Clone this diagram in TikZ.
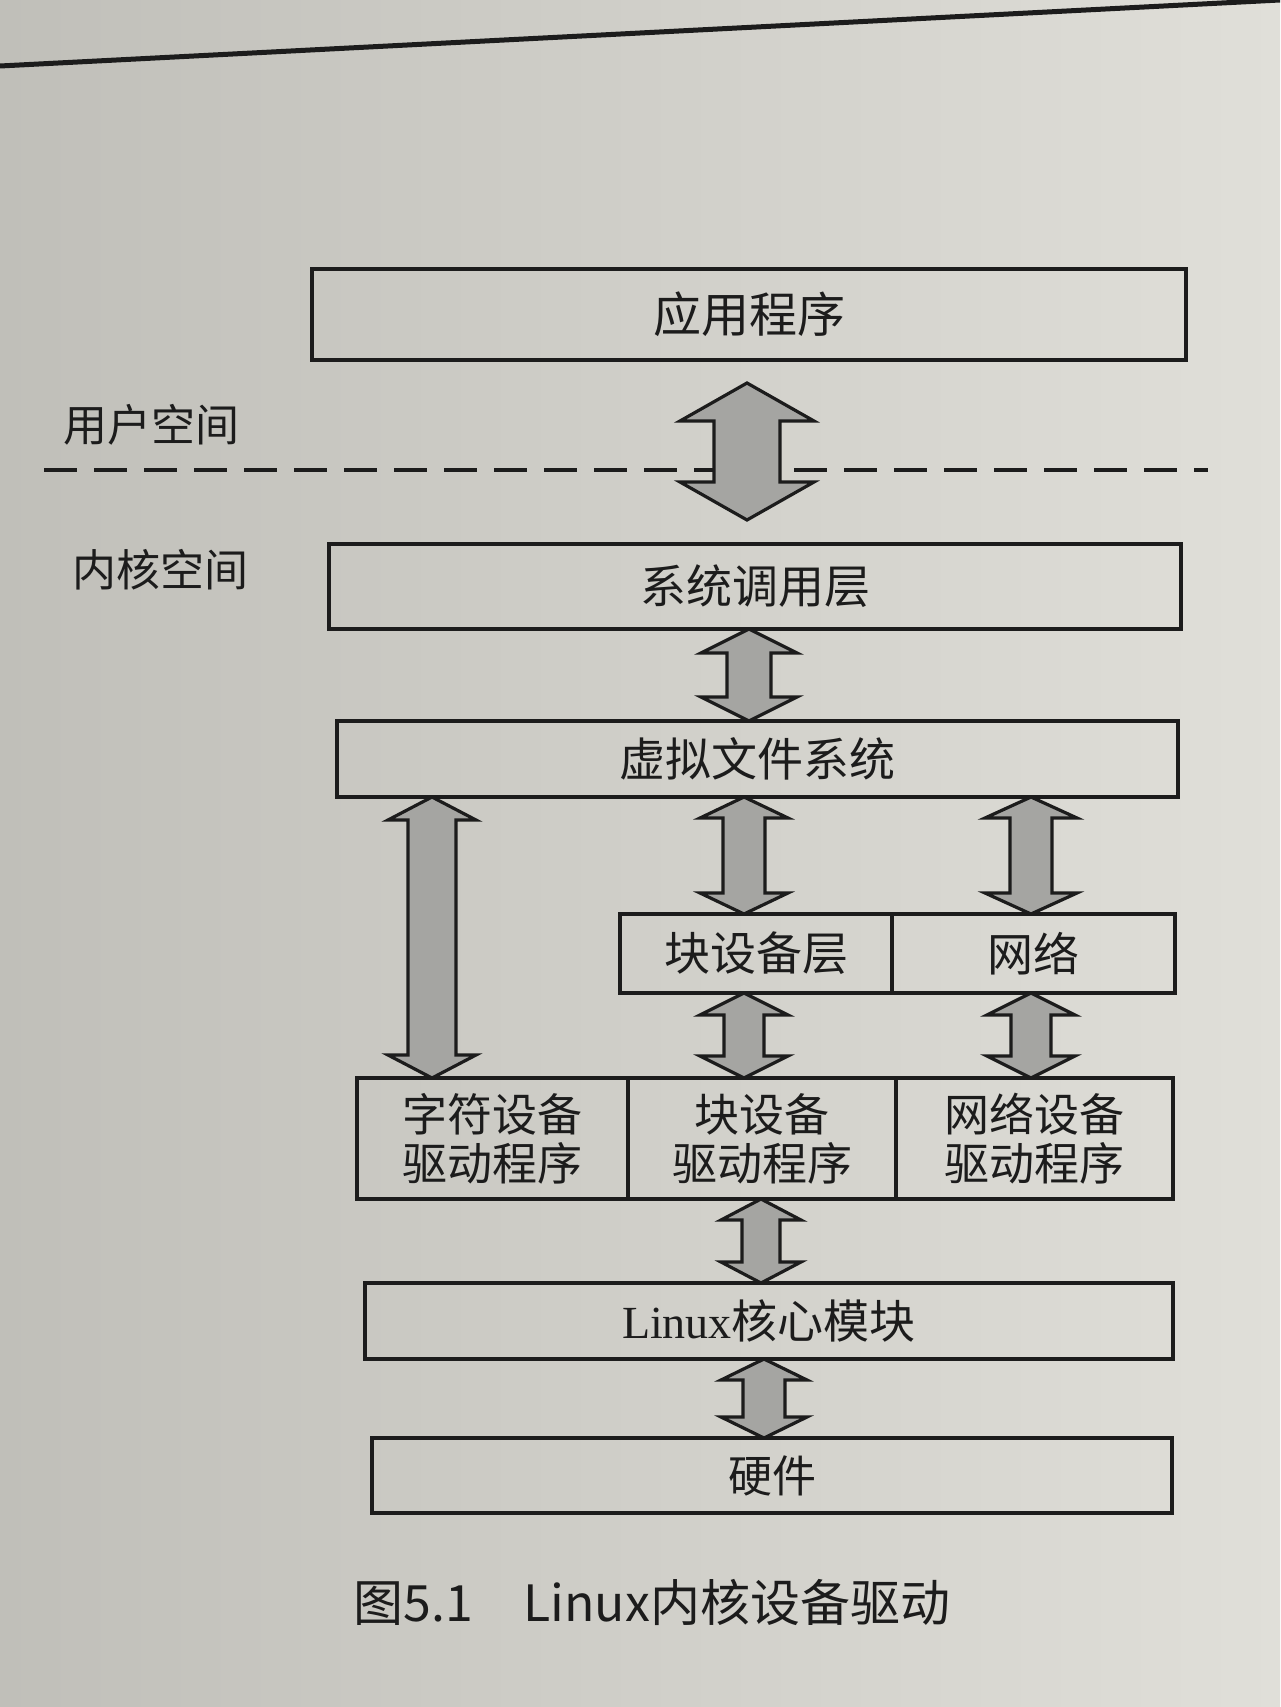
\documentclass[tikz,border=0pt]{standalone}
\usepackage{fontspec}
\setmainfont{Liberation Serif}
\newfontfamily\cjk{Noto Sans CJK SC}
\newfontfamily\lat{Liberation Serif}
\usetikzlibrary{calc}
\definecolor{paperL}{RGB}{192,191,185}
\definecolor{paperR}{RGB}{224,223,217}
\definecolor{arrowgray}{RGB}{165,165,162}
\definecolor{ink}{RGB}{28,28,28}
% double-headed block arrow between two points with the same x
% #1 top point, #2 bottom point, #3 shaft half width, #4 head half width, #5 head length
\newcommand\dblarrow[5]{%
  \draw[darrow] let \p1=(#1), \p2=(#2) in
  (\x1,\y1) -- (\x1+#4,\y1-#5) -- (\x1+#3,\y1-#5) -- (\x1+#3,\y2+#5) -- (\x1+#4,\y2+#5)
  -- (\x2,\y2) -- (\x1-#4,\y2+#5) -- (\x1-#3,\y2+#5) -- (\x1-#3,\y1-#5) -- (\x1-#4,\y1-#5) -- cycle;}
\begin{document}
\begin{tikzpicture}[x=1pt,y=-1pt,
  box/.style={draw=ink, line width=4pt, rectangle, inner sep=0pt, outer sep=0pt,
    font=\cjk\fontsize{46}{50}\selectfont, text=ink, align=center},
  darrow/.style={draw=ink, fill=arrowgray, line width=3.2pt, line join=miter},
  side/.style={font=\cjk\fontsize{44}{50}\selectfont, text=ink},
  sep/.style={draw=ink, line width=4.5pt, dash pattern=on 33pt off 17pt},
  rule/.style={draw=ink, line width=5pt}]
\shade[left color=paperL, right color=paperR] (0,0) rectangle (1280,1707);
\useasboundingbox (0,0) rectangle (1280,1707);

% page rule at top
\coordinate (hl) at (0,66);
\coordinate (hr) at (1280,0);
\draw[rule] (hl) -- (hr);

% user / kernel separator
\coordinate (dl) at (44,470);
\coordinate (dr) at (1208,470);
\draw[sep] (dl) -- (dr);
\node[side] (us) at (151,425) {用户空间};
\node[side] (ks) at (160,570) {内核空间};

% boxes
\node[box, minimum width=874pt, minimum height=91pt, font=\cjk\fontsize{48}{52}\selectfont] (app) at (749,314.5) {应用程序};
\node[box, minimum width=852pt, minimum height=85pt] (sys) at (755,586.5) {系统调用层};
\node[box, minimum width=841pt, minimum height=76pt] (vfs) at (757.5,759) {虚拟文件系统};
\node[box, minimum width=272pt, minimum height=79pt] (blk) at (756,953.5) {块设备层};
\node[box, minimum width=283pt, minimum height=79pt] (net) at (1033.5,953.5) {网络};
\node[box, minimum width=271pt, minimum height=121pt, font=\cjk\fontsize{45}{49}\selectfont] (chr) at (492.5,1138.5) {字符设备\\驱动程序};
\node[box, minimum width=268pt, minimum height=121pt, font=\cjk\fontsize{45}{49}\selectfont] (bdrv) at (762,1138.5) {块设备\\驱动程序};
\node[box, minimum width=277pt, minimum height=121pt, font=\cjk\fontsize{45}{49}\selectfont] (ndrv) at (1034.5,1138.5) {网络设备\\驱动程序};
\node[box, minimum width=808pt, minimum height=76pt] (lin) at (769,1321) {{\lat Linux}核心模块};
\node[box, minimum width=800pt, minimum height=75pt, font=\cjk\fontsize{44}{48}\selectfont] (hw) at (772,1475.5) {硬件};

% arrow columns
\coordinate (cTop) at (747,0);
\coordinate (cSys) at (749,0);
\coordinate (cL) at (432,0);
\coordinate (cM) at (744,0);
\coordinate (cR) at (1031,0);
\coordinate (cM2) at (744,0);
\coordinate (cR2) at (1031,0);
\coordinate (cD) at (761,0);
\coordinate (cH) at (764,0);

\coordinate (a1t) at ($(cTop |- app.south)+(0,23)$);
\coordinate (a1b) at ($(cTop |- sys.north)+(0,-24)$);
\dblarrow{a1t}{a1b}{33pt}{67pt}{38pt}
\dblarrow{cSys |- sys.south}{cSys |- vfs.north}{22pt}{48pt}{24pt}
\dblarrow{cL |- vfs.south}{cL |- chr.north}{24pt}{44pt}{23pt}
\dblarrow{cM |- vfs.south}{cM |- blk.north}{21pt}{44pt}{21pt}
\dblarrow{cR |- vfs.south}{cR |- net.north}{21pt}{46pt}{21pt}
\dblarrow{cM2 |- blk.south}{cM2 |- bdrv.north}{20pt}{44pt}{22pt}
\dblarrow{cR2 |- net.south}{cR2 |- ndrv.north}{20pt}{44pt}{22pt}
\dblarrow{cD |- bdrv.south}{cD |- lin.north}{19pt}{40pt}{21pt}
\dblarrow{cH |- lin.south}{cH |- hw.north}{21pt}{43pt}{21pt}

% caption
\node[font=\cjk\fontsize{50}{55}\selectfont, text=ink] (cap) at (652,1602) {图5.1\quad Linux内核设备驱动};
\end{tikzpicture}
\end{document}
